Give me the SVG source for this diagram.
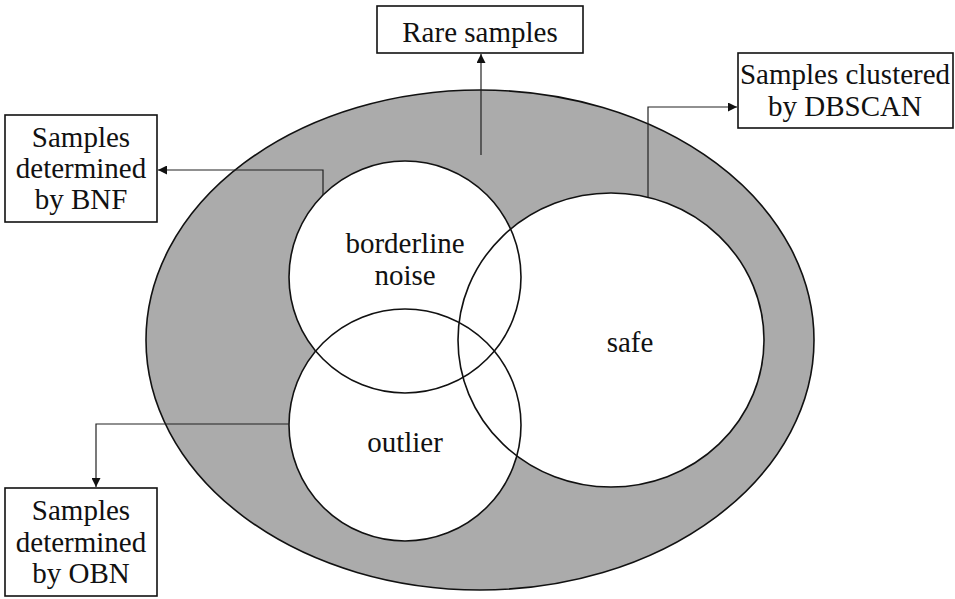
<svg xmlns="http://www.w3.org/2000/svg" width="955" height="599" viewBox="0 0 955 599">
  <style>
    .label { font-family: "Liberation Serif", "Times New Roman", serif; font-size: 29px; fill: #111; text-anchor: middle; }
    .box { fill: #fff; stroke: #111; stroke-width: 1.6; }
    .ring { fill: none; stroke: #111; stroke-width: 1.6; }
    .hole { fill: #fff; stroke: none; }
    .link { fill: none; stroke: #222; stroke-width: 1.2; }
  </style>
  <defs>
    <marker id="arrow" viewBox="0 0 10 10" refX="10" refY="5" markerWidth="9" markerHeight="9" markerUnits="userSpaceOnUse" orient="auto">
      <path d="M0,0 L10,5 L0,10 Z" fill="#111"/>
    </marker>
  </defs>

  <rect width="955" height="599" fill="#fff"/>

  <!-- outer population -->
  <g id="population">
    <ellipse cx="480" cy="340" rx="334" ry="250" fill="#ababab" stroke="#111" stroke-width="1.6"/>
  </g>

  <!-- white interiors of the three subsets -->
  <g id="fills">
    <ellipse class="hole" cx="611" cy="340" rx="153" ry="147"/>
    <circle class="hole" cx="405" cy="277" r="116"/>
    <circle class="hole" cx="405" cy="425" r="116"/>
  </g>

  <g id="safe">
    <ellipse class="ring" cx="611" cy="340" rx="153" ry="147"/>
    <text class="label" x="630" y="352">safe</text>
  </g>
  <g id="borderline">
    <circle class="ring" cx="405" cy="277" r="116"/>
    <text class="label" x="405" y="253">borderline</text>
    <text class="label" x="405" y="285">noise</text>
  </g>
  <g id="outlier">
    <circle class="ring" cx="405" cy="425" r="116"/>
    <text class="label" x="405" y="452">outlier</text>
  </g>

  <g id="connectors">
    <path class="link" d="M481,155 V54" marker-end="url(#arrow)"/>
    <path class="link" d="M323,195 V170 H158" marker-end="url(#arrow)"/>
    <path class="link" d="M648,197 V107 H737" marker-end="url(#arrow)"/>
    <path class="link" d="M289,424 H96 V487" marker-end="url(#arrow)"/>
  </g>

  <g id="rare-samples">
    <rect class="box" x="377" y="6" width="206" height="47"/>
    <text class="label" x="480" y="42">Rare samples</text>
  </g>
  <g id="bnf">
    <rect class="box" x="5" y="115" width="152" height="107"/>
    <text class="label" x="81" y="147">Samples</text>
    <text class="label" x="81" y="178">determined</text>
    <text class="label" x="81" y="209">by BNF</text>
  </g>
  <g id="dbscan">
    <rect class="box" x="738" y="53" width="215" height="75"/>
    <text class="label" x="845" y="84">Samples clustered</text>
    <text class="label" x="845" y="116">by DBSCAN</text>
  </g>
  <g id="obn">
    <rect class="box" x="5" y="488" width="152" height="108"/>
    <text class="label" x="81" y="520">Samples</text>
    <text class="label" x="81" y="552">determined</text>
    <text class="label" x="81" y="583">by OBN</text>
  </g>
</svg>
